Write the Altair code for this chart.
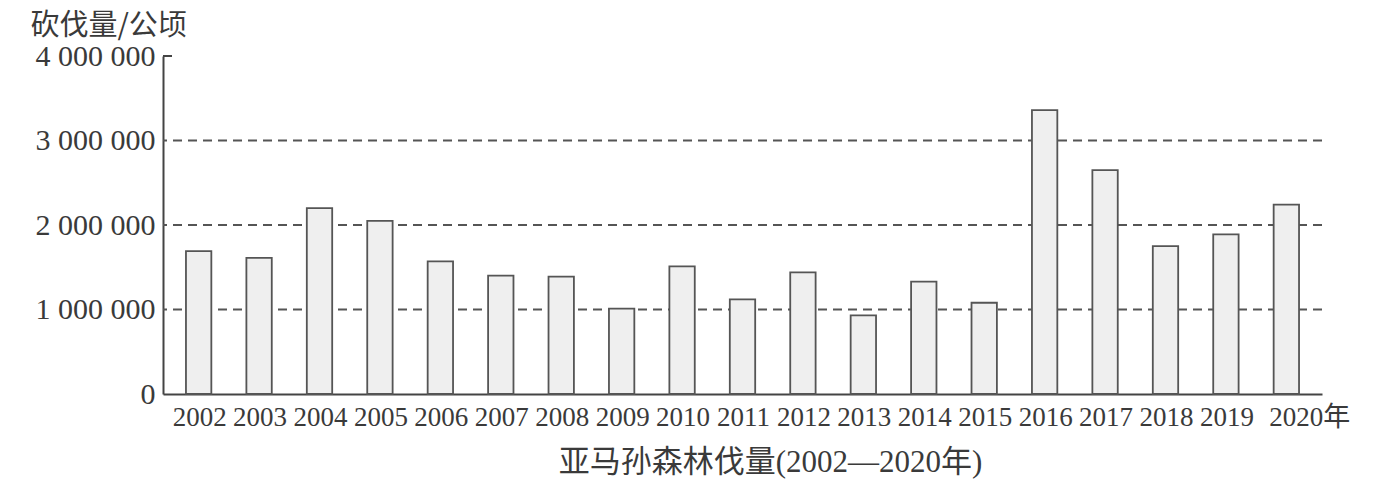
import altair as alt
import pandas as pd

years = ["2002", "2003", "2004", "2005", "2006", "2007", "2008", "2009", "2010",
         "2011", "2012", "2013", "2014", "2015", "2016", "2017", "2018", "2019", "2020"]
values = [1690000, 1610000, 2200000, 2050000, 1570000, 1400000, 1390000, 1010000,
          1510000, 1120000, 1440000, 930000, 1330000, 1080000, 3360000, 2650000,
          1750000, 1890000, 2240000]
grid_values = [1000000, 2000000, 3000000]
y_ticks = [0, 1000000, 2000000, 3000000, 4000000]
top_tick = [4000000]

y_title = "砍伐量/公顷"
x_title = "亚马孙森林伐量(2002—2020年)"

df = pd.DataFrame({"year": years, "value": values})
grid_df = pd.DataFrame({"g": grid_values})
top_df = pd.DataFrame({"t": top_tick})

ink = "#3a3a3a"
serif = "Liberation Serif, Noto Sans CJK SC"

yscale = alt.Scale(domain=[0, 4000000], nice=False)

bars = alt.Chart(df).mark_bar(
    fill="#efefef", stroke="#555555", strokeWidth=1.8
).encode(
    x=alt.X(
        "year:N",
        sort=years,
        scale=alt.Scale(paddingInner=0.58, paddingOuter=0.38),
        axis=alt.Axis(
            title=x_title,
            titleFont=serif,
            titleFontSize=31,
            titleFontWeight="normal",
            titleColor=ink,
            titleX=607,
            titleY=77,
            titleAlign="center",
            titleBaseline="alphabetic",
            labelFont="Liberation Serif, Noto Sans CJK SC",
            labelFontSize=27,
            labelColor=ink,
            labelAngle=0,
            labelPadding=10,
            labelExpr="datum.value == '2020' ? '2020年' : datum.value",
            labelAlign={"condition": {"test": "datum.value == '2020'", "value": "left"}, "value": "center"},
            labelOffset={"condition": {"test": "datum.value == '2020'", "value": -17}, "value": 1},
            ticks=False,
            domainColor="#444444",
            domainWidth=2,
            grid=False,
        ),
    ),
    y=alt.Y(
        "value:Q",
        scale=yscale,
        axis=alt.Axis(
            values=y_ticks,
            title=y_title,
            titleFont="Noto Sans CJK SC",
            titleFontSize=29,
            titleFontWeight="normal",
            titleColor=ink,
            titleAngle=0,
            titleAlign="left",
            titleBaseline="alphabetic",
            titleX=-133,
            titleY=-22,
            labelFont="Liberation Serif",
            labelFontSize=30,
            labelColor=ink,
            labelPadding=8,
            labelExpr="replace(replace(format(datum.value, ','), ',', ' '), ',', ' ')",
            ticks=False,
            domainColor="#444444",
            domainWidth=2,
            grid=False,
        ),
    ),
)

grid = alt.Chart(grid_df).mark_rule(
    color="#555555", strokeWidth=1.8, strokeDash=[9, 6]
).encode(y=alt.Y("g:Q", scale=yscale))

top = alt.Chart(top_df).mark_rule(color="#444444", strokeWidth=2).encode(
    y=alt.Y("t:Q", scale=yscale), x=alt.value(0), x2=alt.value(9)
)

chart = alt.layer(grid, bars, top).properties(
    width=1159,
    height=338,
    autosize=alt.AutoSizeParams(type="none"),
    padding={"left": 155, "top": 48, "right": 40, "bottom": 88},
    background="white",
).configure_view(stroke=None)

chart.save("out.html", embed_options={"renderer": "svg", "actions": False})
